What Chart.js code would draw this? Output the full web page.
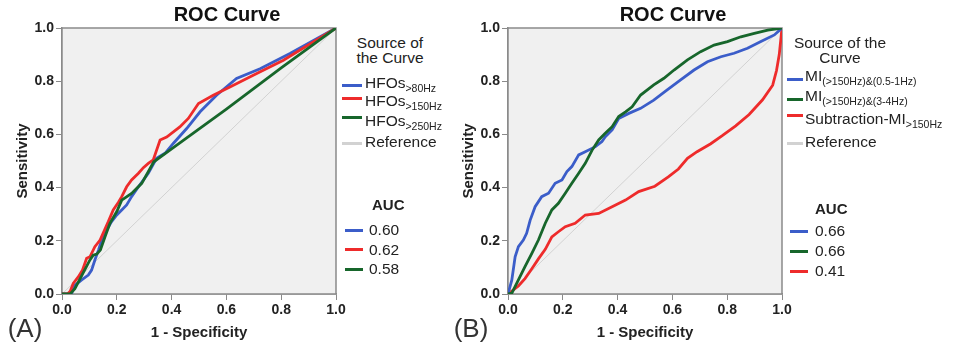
<!DOCTYPE html>
<html>
<head>
<meta charset="utf-8">
<script src="https://cdn.jsdelivr.net/npm/chart.js@4.4.1/dist/chart.umd.min.js"></script>
<style>
  body { margin: 0; width: 960px; height: 347px; background: #fff; position: relative; overflow: hidden;
         font-family: "Liberation Sans", Arial, sans-serif; color: #222; }
  canvas { position: absolute; top: 0; }
  .t { position: absolute; white-space: nowrap; line-height: 1; }
  .title { font-weight: bold; font-size: 20px; color: #111; transform: translate(-50%, -50%); }
  .panel { font-size: 26px; color: #333; transform: translate(-50%, -50%); }
  .head { font-size: 15.5px; line-height: 15px; text-align: center; transform: translate(-50%, -50%); }
  .leg { font-size: 15.5px; transform: translateY(-50%); }
  .leg sub { font-size: 10.5px; vertical-align: -4px; line-height: 0; }
  .auc { font-weight: bold; font-size: 15px; transform: translateY(-50%); }
  .sw { position: absolute; height: 3px; }
</style>
</head>
<body>
<canvas id="rocA" width="350" height="347" style="left:0"></canvas>
<canvas id="rocB" width="350" height="347" style="left:446px"></canvas>
<script>
// tick labels (both axes)
const tickValues = [0, 0.2, 0.4, 0.6, 0.8, 1.0];

// panel A - HFOs
const hfo80Fpr = [0, .035, .041, .072, .096, .108, .12, .133, .145, .163, .181, .2, .218, .236, .254, .279, .315, .345, .376, .406, .455, .504, .564, .637, .723, .832, 1];
const hfo80Tpr = [0, 0, .028, .053, .071, .09, .128, .165, .203, .24, .272, .297, .316, .335, .366, .403, .454, .51, .529, .566, .622, .685, .747, .81, .847, .904, 1];
const hfo150Fpr = [0, .02, .03, .041, .06, .075, .09, .102, .12, .139, .169, .187, .206, .218, .236, .254, .279, .297, .315, .333, .358, .382, .43, .461, .498, .552, .613, .698, .808, 1];
const hfo150Tpr = [0, 0, .01, .04, .065, .09, .134, .14, .178, .203, .272, .316, .345, .366, .403, .429, .454, .475, .491, .504, .579, .59, .628, .66, .716, .747, .778, .822, .879, 1];
const hfo250Fpr = [0, .03, .047, .102, .114, .127, .14, .157, .175, .2, .218, .254, .291, .335, .4, .6, .8, 1];
const hfo250Tpr = [0, 0, .02, .128, .146, .15, .165, .215, .266, .31, .353, .378, .416, .497, .546, .695, .85, 1];
const namesA = ["HFOs", "HFOs", "HFOs"];
const subsA = [">80Hz", ">150Hz", ">250Hz"];
const aucA = ["0.60", "0.62", "0.58"];

// panel B - MI
const mi05Fpr = [0, .014, .026, .038, .056, .068, .081, .099, .123, .148, .172, .197, .215, .233, .258, .282, .319, .343, .355, .38, .404, .441, .484, .532, .581, .63, .679, .728, .777, .825, .874, .923, .972, 1];
const mi05Tpr = [0, .053, .14, .178, .203, .228, .278, .328, .366, .379, .416, .429, .46, .479, .523, .535, .554, .573, .591, .617, .66, .679, .698, .729, .767, .805, .842, .873, .892, .905, .924, .949, .974, 1];
const mi34Fpr = [0, .014, .038, .062, .087, .111, .136, .16, .184, .209, .233, .258, .282, .307, .331, .355, .38, .404, .429, .453, .484, .532, .569, .606, .655, .703, .752, .801, .85, .899, .948, 1];
const mi34Tpr = [0, .003, .053, .103, .153, .203, .266, .316, .341, .379, .416, .454, .491, .541, .579, .604, .629, .667, .685, .704, .748, .786, .811, .842, .88, .911, .936, .949, .967, .98, .992, 1];
const subFpr = [0, .038, .062, .087, .111, .136, .16, .184, .209, .245, .282, .331, .38, .429, .477, .536, .585, .622, .655, .69, .74, .782, .831, .88, .929, .966, .98, .99, 1];
const subTpr = [0, .03, .058, .095, .132, .168, .215, .234, .253, .266, .297, .303, .328, .353, .385, .405, .44, .47, .51, .535, .565, .595, .632, .675, .73, .785, .84, .9, 1];
const namesB = ["MI", "MI", "Subtraction-MI"];
const subsB = ["(>150Hz)&(0.5-1Hz)", "(>150Hz)&(3-4Hz)", ">150Hz"];
const aucB = ["0.66", "0.66", "0.41"];

const refFpr = [0, 1];
const refTpr = [0, 1];

const BLUE = "#3b5dc9", RED = "#ee2b2b", GREEN = "#17662b", GREY = "#d2d2d2";

function pts(xs, ys) {
    return xs.map((x, i) => ({ x, y: ys[i] }));
}

function curve(xs, ys, color, order) {
    return { data: pts(xs, ys), borderColor: color, borderWidth: 2.8, pointRadius: 0, tension: 0, order };
}

const plotFrame = {
    id: "plotFrame",
    beforeDatasetsDraw(chart) {
        const { ctx, chartArea: a } = chart;
        ctx.save();
        ctx.fillStyle = "#f0f0f0";
        ctx.fillRect(a.left, a.top, a.width, a.height);
        ctx.strokeStyle = "#8a8a8a";
        ctx.lineWidth = 1.5;
        ctx.strokeRect(a.left, a.top, a.width, a.height);
        ctx.restore();
    }
};

function axis(title, isY) {
    return {
        type: "linear", min: 0, max: 1,
        afterBuildTicks: (s) => { s.ticks = tickValues.map((v) => ({ value: v })); },
        afterFit: (s) => { if (isY) s.width = 62; else s.height = 53; },
        ticks: {
            color: "#222", padding: 2,
            font: { family: "Liberation Sans", size: 14, weight: "bold" },
            callback: (v) => Number(v).toFixed(1)
        },
        grid: { drawOnChartArea: false, drawTicks: true, tickLength: 6, color: "#8a8a8a", lineWidth: 1 },
        border: { display: true, color: "#8a8a8a", width: 1.5 },
        title: {
            display: true, text: title, color: "#222",
            font: { family: "Liberation Sans", size: 15, weight: "bold" },
            padding: isY ? { top: 14, bottom: 0 } : { top: 0, bottom: 5 }
        }
    };
}

function makeChart(id, datasets) {
    new Chart(document.getElementById(id), {
        type: "line",
        data: { datasets },
        options: {
            responsive: false, animation: false, devicePixelRatio: 1,
            layout: { padding: { top: 28, right: 14, bottom: 0, left: 0 } },
            plugins: { legend: { display: false }, tooltip: { enabled: false } },
            scales: { x: axis("1 - Specificity", false), y: axis("Sensitivity", true) }
        },
        plugins: [plotFrame]
    });
}

makeChart("rocA", [
    curve(hfo250Fpr, hfo250Tpr, GREEN, 1),
    curve(hfo150Fpr, hfo150Tpr, RED, 2),
    curve(hfo80Fpr, hfo80Tpr, BLUE, 3),
    { data: pts(refFpr, refTpr), borderColor: GREY, borderWidth: 1, pointRadius: 0, order: 4 }
]);

makeChart("rocB", [
    curve(mi34Fpr, mi34Tpr, GREEN, 1),
    curve(mi05Fpr, mi05Tpr, BLUE, 2),
    curve(subFpr, subTpr, RED, 3),
    { data: pts(refFpr, refTpr), borderColor: GREY, borderWidth: 1, pointRadius: 0, order: 4 }
]);

// text and legends
function put(html, cls, x, y) {
    const d = document.createElement("div");
    d.className = "t " + cls;
    d.innerHTML = html;
    d.style.left = x + "px";
    d.style.top = y + "px";
    document.body.appendChild(d);
}

function swatch(color, x1, x2, y) {
    const d = document.createElement("div");
    d.className = "sw";
    d.style.background = color;
    d.style.left = x1 + "px";
    d.style.width = (x2 - x1) + "px";
    d.style.top = (y - 1.5) + "px";
    document.body.appendChild(d);
}

function esc(s) {
    return s.replace(/&/g, "&amp;").replace(/>/g, "&gt;");
}

put("ROC Curve", "title", 227, 14);
put("ROC Curve", "title", 673, 14);
put("(A)", "panel", 25, 328);
put("(B)", "panel", 471, 328);

// panel A legend
const colorsA = [BLUE, RED, GREEN];
put("Source of<br>the Curve", "head", 390, 49.5);
const rowA = [83, 101, 121];
const lineA = [85, 98, 117];
namesA.forEach((n, i) => {
    swatch(colorsA[i], 342, 362, lineA[i]);
    put(n + "<sub>" + esc(subsA[i]) + "</sub>", "leg", 365, rowA[i]);
});
swatch(GREY, 342, 362, 143);
put("Reference", "leg", 365, 142);
put("AUC", "auc", 372, 204);
aucA.forEach((v, i) => {
    swatch(colorsA[i], 345, 363, 230 + i * 19.5);
    put(v, "leg", 369, 230 + i * 19.5);
});

// panel B legend
const colorsB = [BLUE, GREEN, RED];
put("Source of the<br>Curve", "head", 840, 49.5);
const rowB = [76, 96, 119];
const lineB = [79, 99, 115];
namesB.forEach((n, i) => {
    swatch(colorsB[i], 787, 803, lineB[i]);
    put(n + "<sub>" + esc(subsB[i]) + "</sub>", "leg", 805, rowB[i]);
});
swatch(GREY, 787, 803, 143);
put("Reference", "leg", 805, 142);
put("AUC", "auc", 815, 208);
aucB.forEach((v, i) => {
    swatch(colorsB[i], 790, 808, 231 + i * 20);
    put(v, "leg", 815, 231 + i * 20);
});
</script>
</body>
</html>
